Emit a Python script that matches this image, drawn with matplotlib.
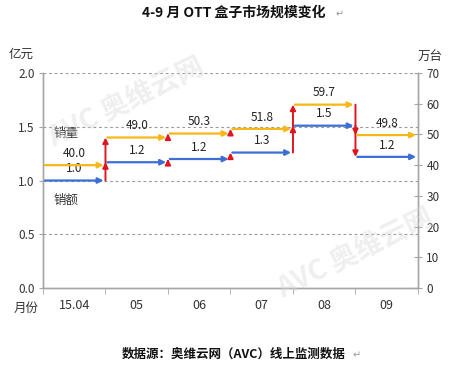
import matplotlib.pyplot as plt

plt.rcParams['font.family'] = ['Noto Sans CJK SC', 'DejaVu Sans']

# Data
months = ['15.04', '05', '06', '07', '08', '09']
sales_amount = [1.0, 1.17, 1.2, 1.26, 1.51, 1.22]      # 亿元 (left axis)
sales_volume = [40.0, 49.0, 50.3, 51.8, 59.7, 49.8]    # 万台 (right axis)

blue = '#3B6FD6'
yellow = '#F7B718'
red = '#E0151F'
grey = '#A6A6A6'
txt = '#333333'

fig = plt.figure(figsize=(4.67, 3.66), dpi=100)
ax = fig.add_axes([0.092, 0.2131, 0.803, 0.5874])
ax2 = ax.twinx()

n = len(months)
ax.set_xlim(-0.5, n - 0.5)
ax.set_ylim(0, 2.0)
ax2.set_ylim(0, 70)

# grid
for g in [0.5, 1.0, 1.5, 2.0]:
    ax.axhline(g, color='#9A9A9A', lw=0.8, ls=(0, (2.5, 2.5)), zorder=1)

def step_arrows(axis, vals, color, fmt, dy):
    for i, v in enumerate(vals):
        axis.annotate('', xy=(i + 0.47, v), xytext=(i - 0.47, v),
                      arrowprops=dict(arrowstyle='-|>', color=color, lw=1.6,
                                      mutation_scale=8, shrinkA=0, shrinkB=0),
                      zorder=4)
        axis.annotate(format(v, fmt), xy=(i, v), xytext=(0, dy),
                      textcoords='offset points', ha='center', va='center',
                      fontsize=8.5, color='#222222', zorder=6)
        if i > 0:
            axis.annotate('', xy=(i - 0.5, v), xytext=(i - 0.5, vals[i - 1]),
                          arrowprops=dict(arrowstyle='-|>', color=red, lw=1.4,
                                          mutation_scale=8, shrinkA=0, shrinkB=0),
                          zorder=5)

step_arrows(ax, sales_amount, blue, '.1f', 8.5)
step_arrows(ax2, sales_volume, yellow, '.1f', 8.5)

# axes styling
ax.set_yticks([0, 0.5, 1.0, 1.5, 2.0])
ax.set_yticklabels(['0.0', '0.5', '1.0', '1.5', '2.0'])
ax2.set_yticks(range(0, 71, 10))
ax.set_xticks(range(n))
ax.set_xticklabels(months)
ax.set_xticks([i + 0.5 for i in range(-1, n)], minor=True)
ax.tick_params(axis='x', which='major', length=0, pad=8, labelsize=9, labelcolor=txt)
ax.tick_params(axis='x', which='minor', length=4, color=grey, direction='out')
ax.tick_params(axis='y', length=3, color=grey, labelsize=8.5, labelcolor=txt, pad=3)
ax2.tick_params(axis='y', length=6, color=grey, direction='inout', labelsize=8.5,
                labelcolor=txt, pad=3)
for a in (ax, ax2):
    a.spines['top'].set_visible(False)
    for s in ('left', 'right', 'bottom'):
        a.spines[s].set_color(grey)
        a.spines[s].set_linewidth(1.0)

# series names
ax.text(-0.33, 1.44, '销量', fontsize=9, color=txt, va='center', ha='left')
ax.text(-0.33, 0.82, '销额', fontsize=9, color=txt, va='center', ha='left')

# watermark
for (x, y) in [(0.27, 0.72), (0.76, 0.31)]:
    fig.text(x, y, 'AVC 奥维云网', fontsize=20, fontweight='bold', style='italic',
             color='#D8D8D8', alpha=0.4, rotation=26, ha='center', va='center', zorder=0)

# titles and units
fig.text(0.5, 0.965, '4-9 月 OTT 盒子市场规模变化', ha='center', va='center',
         fontsize=10, fontweight='bold', color='#111111')
fig.text(0.718, 0.962, '↵', ha='left', va='center', fontsize=7, color='#999999',
         family=['DejaVu Sans'])
fig.text(0.045, 0.852, '亿元', ha='center', va='center', fontsize=9, color=txt)
fig.text(0.92, 0.845, '万台', ha='center', va='center', fontsize=9, color=txt)
fig.text(0.055, 0.158, '月份', ha='center', va='center', fontsize=9, color=txt)
fig.text(0.5, 0.033, '数据源：奥维云网（AVC）线上监测数据', ha='center', va='center',
         fontsize=9, fontweight='bold', color='#111111')
fig.text(0.755, 0.030, '↵', ha='left', va='center', fontsize=7, color='#999999',
         family=['DejaVu Sans'])

fig.savefig('out.png', dpi=100)
